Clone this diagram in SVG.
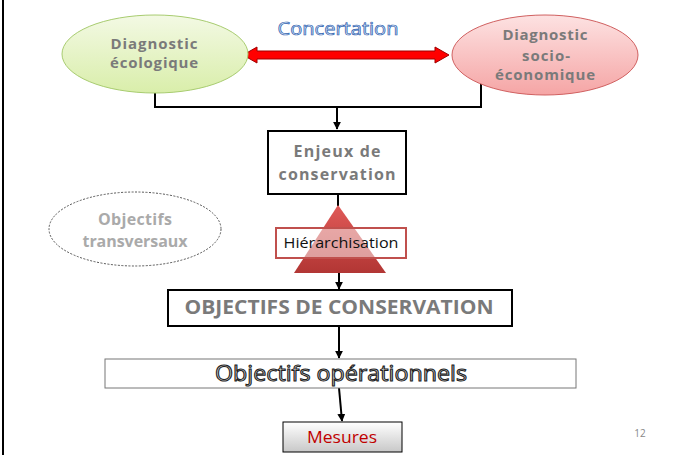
<svg xmlns="http://www.w3.org/2000/svg" width="680" height="457" viewBox="0 0 680 457">
<defs>
<linearGradient id="gGreen" x1="0" y1="0" x2="0" y2="1">
<stop offset="0" stop-color="#f3f9e4"/><stop offset="1" stop-color="#d9eeaa"/>
</linearGradient>
<linearGradient id="gRed" x1="0" y1="0" x2="0" y2="1">
<stop offset="0" stop-color="#fde2e2"/><stop offset="1" stop-color="#f5a5a5"/>
</linearGradient>
<linearGradient id="gTri" x1="0" y1="0" x2="0" y2="1">
<stop offset="0" stop-color="#e05a58"/><stop offset="1" stop-color="#b23634"/>
</linearGradient>
<linearGradient id="gMes" x1="0" y1="0" x2="0" y2="1">
<stop offset="0" stop-color="#ffffff"/><stop offset="1" stop-color="#c8c8c8"/>
</linearGradient>
<marker id="arr" viewBox="0 0 10 10" refX="9" refY="5" markerWidth="4" markerHeight="4" orient="auto">
<path d="M0,0 L10,5 L0,10 z" fill="#000"/>
</marker>
</defs>
<style>
.lbl{font-family:"Open Sans","Liberation Sans",sans-serif;font-weight:bold;text-anchor:middle;}
.conn{fill:none;stroke:#000;stroke-width:2;}
</style>
<rect width="680" height="457" fill="#fff"/>
<line x1="3" y1="0" x2="3" y2="455" stroke="#000" stroke-width="2"/>

<g id="connectors">
<polyline class="conn" points="155,93 155,107 481,107 481,82"/>
<line class="conn" x1="337" y1="107" x2="337" y2="129" marker-end="url(#arr)"/>
<line class="conn" x1="338" y1="195" x2="338" y2="206"/>
<line class="conn" x1="339" y1="273" x2="339" y2="289" marker-end="url(#arr)"/>
<line class="conn" x1="339" y1="326" x2="339" y2="358" marker-end="url(#arr)"/>
<line class="conn" x1="339" y1="388" x2="342" y2="421" marker-end="url(#arr)"/>
<path d="M243,55 L257,47 L257,51 L435,51 L435,47 L449,55 L435,63 L435,59 L257,59 L257,63 Z" fill="#ff0000" stroke="#a00000" stroke-width="1"/>
</g>

<text x="338" y="35" font-family="'Open Sans','Liberation Sans',sans-serif" font-size="18" text-anchor="middle" fill="#dbe8f8" stroke="#2f62b0" stroke-width="0.7" textLength="121" lengthAdjust="spacingAndGlyphs">Concertation</text>

<g id="diag-eco">
<ellipse cx="155" cy="54" rx="93" ry="39" fill="url(#gGreen)" stroke="#a8cc70" stroke-width="1"/>
<text class="lbl" x="154" y="49" font-size="15" fill="#7a7a7a" textLength="87" lengthAdjust="spacing">Diagnostic</text>
<text class="lbl" x="154" y="68" font-size="15" fill="#7a7a7a" textLength="88" lengthAdjust="spacing">écologique</text>
</g>

<g id="diag-socio">
<ellipse cx="545" cy="55" rx="93" ry="40" fill="url(#gRed)" stroke="#d06060" stroke-width="1"/>
<text class="lbl" x="545" y="40" font-size="15" fill="#7a7a7a" textLength="85" lengthAdjust="spacing">Diagnostic</text>
<text class="lbl" x="546" y="61" font-size="15" fill="#7a7a7a" textLength="48" lengthAdjust="spacing">socio-</text>
<text class="lbl" x="545" y="80" font-size="15" fill="#7a7a7a" textLength="100" lengthAdjust="spacing">économique</text>
</g>

<g id="enjeux">
<rect x="268" y="131" width="138" height="63" fill="#fff" stroke="#000" stroke-width="2"/>
<text class="lbl" x="337" y="157" font-size="16" fill="#7a7a7a" textLength="87" lengthAdjust="spacing">Enjeux de</text>
<text class="lbl" x="337" y="180" font-size="16" fill="#7a7a7a" textLength="117" lengthAdjust="spacing">conservation</text>
</g>

<g id="transversaux">
<ellipse cx="135" cy="229" rx="86" ry="37" fill="#fff" stroke="#555" stroke-width="1" stroke-dasharray="2,1.5"/>
<text class="lbl" x="135" y="225" font-size="16" fill="#aaaaaa" textLength="74" lengthAdjust="spacing">Objectifs</text>
<text class="lbl" x="135" y="247" font-size="16" fill="#aaaaaa" textLength="105" lengthAdjust="spacing">transversaux</text>
</g>

<g id="hierarchisation">
<polygon points="338,205 294,273 386,273" fill="url(#gTri)"/>
<rect x="276" y="228" width="130" height="30" fill="#fff" fill-opacity="0.5" stroke="#c0504d" stroke-width="2"/>
<text x="341" y="248" font-family="'Open Sans','Liberation Sans',sans-serif" font-size="15" text-anchor="middle" fill="#111" textLength="115" lengthAdjust="spacingAndGlyphs">Hiérarchisation</text>
</g>

<g id="obj-conservation">
<rect x="168" y="290" width="344" height="36" fill="#fff" stroke="#000" stroke-width="2"/>
<text class="lbl" x="339" y="314" font-size="19" fill="#7a7a7a" textLength="309" lengthAdjust="spacingAndGlyphs">OBJECTIFS DE CONSERVATION</text>
</g>

<g id="obj-operationnels">
<rect x="105" y="359" width="471" height="29" fill="#fff" stroke="#777" stroke-width="1"/>
<text x="341" y="381" font-family="'Open Sans','Liberation Sans',sans-serif" font-size="21" text-anchor="middle" fill="#d4d4d4" stroke="#222" stroke-width="1" textLength="252" lengthAdjust="spacingAndGlyphs">Objectifs opérationnels</text>
</g>

<g id="mesures">
<rect x="283" y="422" width="119" height="30" fill="url(#gMes)" stroke="#000" stroke-width="1"/>
<text x="342" y="443" font-family="'Open Sans','Liberation Sans',sans-serif" font-size="16" text-anchor="middle" fill="#c00000" textLength="70" lengthAdjust="spacingAndGlyphs">Mesures</text>
</g>

<text x="640" y="437" font-family="'Open Sans','Liberation Sans',sans-serif" font-size="10" text-anchor="middle" fill="#888">12</text>
</svg>
